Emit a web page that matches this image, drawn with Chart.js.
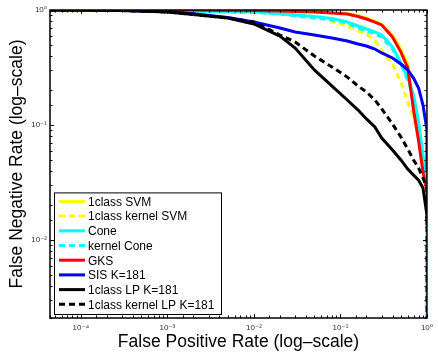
<!DOCTYPE html>
<html>
<head>
<meta charset="utf-8">
<script src="https://cdn.jsdelivr.net/npm/chart.js@4"></script>
<style>
body { margin: 0; background: #fff; }
canvas { display: block; }
</style>
</head>
<body>
<canvas id="roc" width="438" height="356"></canvas>
<script>
// false positive rate, shared by all curves (last point = drop at FPR 1)
const fpr = [4.4e-5, 1e-4, 3e-4, 1e-3, 2e-3, 5e-3, 0.01, 0.02, 0.03, 0.05, 0.08, 0.12, 0.16, 0.2, 0.25, 0.3, 0.4, 0.5, 0.6, 0.7, 0.8, 0.9, 1, 1]

// false negative rate per method
const svm1 = [1, 1, 1, 1, 1, 1, 0.990, 0.990, 0.980, 0.970, 0.951, 0.932, 0.896, 0.852, 0.802, 0.756, 0.606, 0.458, 0.339, 0.152, 0.0818, 0.044, 0.0295, 0.0223]
const kernelSvm = [1, 1, 1, 0.990, 0.980, 0.970, 0.961, 0.942, 0.914, 0.878, 0.802, 0.726, 0.657, 0.618, 0.548, 0.449, 0.339, 0.236, 0.158, 0.117, 0.0771, 0.0423, 0.0223, 0.0182]
const cone = [1, 1, 1, 0.990, 0.980, 0.970, 0.961, 0.932, 0.905, 0.878, 0.844, 0.786, 0.726, 0.684, 0.644, 0.606, 0.477, 0.346, 0.256, 0.182, 0.106, 0.0548, 0.0283, 0.0246]
const kernelCone = [1, 1, 1, 0.990, 0.980, 0.961, 0.951, 0.923, 0.887, 0.852, 0.818, 0.771, 0.697, 0.657, 0.618, 0.582, 0.458, 0.339, 0.246, 0.175, 0.100, 0.0516, 0.0272, 0.002]
const gks = [1, 1, 1, 1, 1, 0.990, 0.990, 0.980, 0.970, 0.961, 0.942, 0.923, 0.878, 0.835, 0.786, 0.741, 0.582, 0.431, 0.313, 0.135, 0.073, 0.039, 0.0272, 0.0201]
const sis = [1, 1, 0.990, 0.970, 0.930, 0.860, 0.786, 0.697, 0.644, 0.606, 0.571, 0.538, 0.506, 0.486, 0.458, 0.423, 0.383, 0.339, 0.301, 0.256, 0.210, 0.149, 0.0905, 0.0406]
const lp = [1, 1, 0.990, 0.961, 0.914, 0.852, 0.756, 0.594, 0.467, 0.301, 0.218, 0.165, 0.135, 0.113, 0.0961, 0.0771, 0.0606, 0.0497, 0.0414, 0.0367, 0.0332, 0.0283, 0.0165, 0.0135]
const kernelLp = [1, 1, 0.990, 0.961, 0.914, 0.852, 0.786, 0.606, 0.527, 0.398, 0.319, 0.261, 0.218, 0.194, 0.165, 0.138, 0.102, 0.0787, 0.0618, 0.0497, 0.0423, 0.0346, 0.0289, 0.002]

const labels = ["1class SVM", "1class kernel SVM", "Cone", "kernel Cone", "GKS", "SIS K=181", "1class LP K=181", "1class kernel LP K=181"]
const series = [svm1, kernelSvm, cone, kernelCone, gks, sis, lp, kernelLp]
const colors = ["#ffff00", "#ffff00", "#00ffff", "#00ffff", "#ff0000", "#0000ff", "#000000", "#000000"]
const dashed = [false, true, false, true, false, false, false, true]

const font = '"Liberation Sans", Arial, "DejaVu Sans", sans-serif'
const sup = { "0": "\u2070", "1": "\u00b9", "2": "\u00b2", "3": "\u00b3", "4": "\u2074", "-": "\u207b" }

function isPow10(v) {
    const l = Math.log10(v)
    return Math.abs(l - Math.round(l)) < 1e-9
}

function powLabel(v) {
    if (!isPow10(v)) return ""
    const e = String(Math.round(Math.log10(v)))
    return "10" + e.split("").map(c => sup[c]).join("")
}

const datasets = series.map((s, i) => ({
    label: labels[i],
    data: fpr.map((x, j) => ({ x: x, y: s[j] })),
    borderColor: colors[i],
    borderWidth: 3,
    borderDash: dashed[i] ? [6, 4] : [],
    pointRadius: 0,
    tension: 0,
    order: series.length - 1 - i
}))

// matlab style box, inward ticks and legend in the lower left
const boxPlugin = {
    id: "boxPlugin",
    afterDraw(chart) {
        const { ctx, chartArea: a, scales } = chart
        ctx.save()
        ctx.strokeStyle = "#000"
        ctx.lineWidth = 1
        ctx.beginPath()
        scales.x.ticks.forEach(t => {
            const px = Math.round(scales.x.getPixelForValue(t.value)) + 0.5
            const len = isPow10(t.value) ? 4 : 2.5
            ctx.moveTo(px, a.bottom); ctx.lineTo(px, a.bottom - len)
            ctx.moveTo(px, a.top); ctx.lineTo(px, a.top + len)
        })
        scales.y.ticks.forEach(t => {
            const py = Math.round(scales.y.getPixelForValue(t.value)) + 0.5
            const len = isPow10(t.value) ? 4 : 2.5
            ctx.moveTo(a.left, py); ctx.lineTo(a.left + len, py)
            ctx.moveTo(a.right, py); ctx.lineTo(a.right - len, py)
        })
        ctx.stroke()
        ctx.lineWidth = 1.5
        ctx.strokeRect(a.left, a.top, a.right - a.left, a.bottom - a.top)

        // legend
        const lx = a.left + 4, lw = 167, rowH = 14.7
        const lh = rowH * labels.length + 4
        const ly = a.bottom - 4 - lh
        ctx.fillStyle = "#fff"
        ctx.fillRect(lx, ly, lw, lh)
        ctx.lineWidth = 1
        ctx.strokeRect(lx + 0.5, ly + 0.5, lw, lh)
        ctx.font = "12px " + font
        ctx.textBaseline = "middle"
        chart.data.datasets.forEach((d, i) => {
            const cy = ly + 9 + i * rowH
            ctx.strokeStyle = d.borderColor
            ctx.lineWidth = 3
            ctx.setLineDash(d.borderDash)
            ctx.beginPath()
            ctx.moveTo(lx + 5, cy); ctx.lineTo(lx + 31, cy)
            ctx.stroke()
            ctx.setLineDash([])
            ctx.fillStyle = "#000"
            ctx.fillText(d.label, lx + 34, cy + 1)
        })
        ctx.restore()
    }
}

const chart = new Chart(document.getElementById("roc"), {
    type: "line",
    data: { datasets: datasets },
    plugins: [boxPlugin],
    options: {
        responsive: false,
        animation: false,
        devicePixelRatio: 1,
        layout: { padding: { top: 10, right: 2, left: 0, bottom: 0 } },
        plugins: { legend: { display: false }, tooltip: { enabled: false } },
        scales: {
            x: {
                type: "logarithmic",
                min: 4.4e-5,
                max: 1,
                grid: { display: false, drawTicks: false },
                border: { display: false },
                ticks: {
                    autoSkip: false, maxRotation: 0, padding: 5,
                    color: "#333", font: { size: 8, family: font },
                    callback: v => powLabel(v)
                },
                title: {
                    display: true, text: "False Positive Rate (log\u2013scale)",
                    color: "#000", font: { size: 17.5, family: font },
                    padding: { top: 0, bottom: 3 }
                },
                afterFit: s => { s.height = 38 }
            },
            y: {
                type: "logarithmic",
                min: 0.0021,
                max: 1,
                grid: { display: false, drawTicks: false },
                border: { display: false },
                ticks: {
                    autoSkip: false, padding: 3,
                    color: "#333", font: { size: 8, family: font },
                    callback: v => powLabel(v)
                },
                title: {
                    display: true, text: "False Negative Rate (log\u2013scale)",
                    color: "#000", font: { size: 17.5, family: font },
                    padding: { top: 7, bottom: 0 }
                },
                afterFit: s => { s.width = 50 }
            }
        }
    }
})
</script>
</body>
</html>
